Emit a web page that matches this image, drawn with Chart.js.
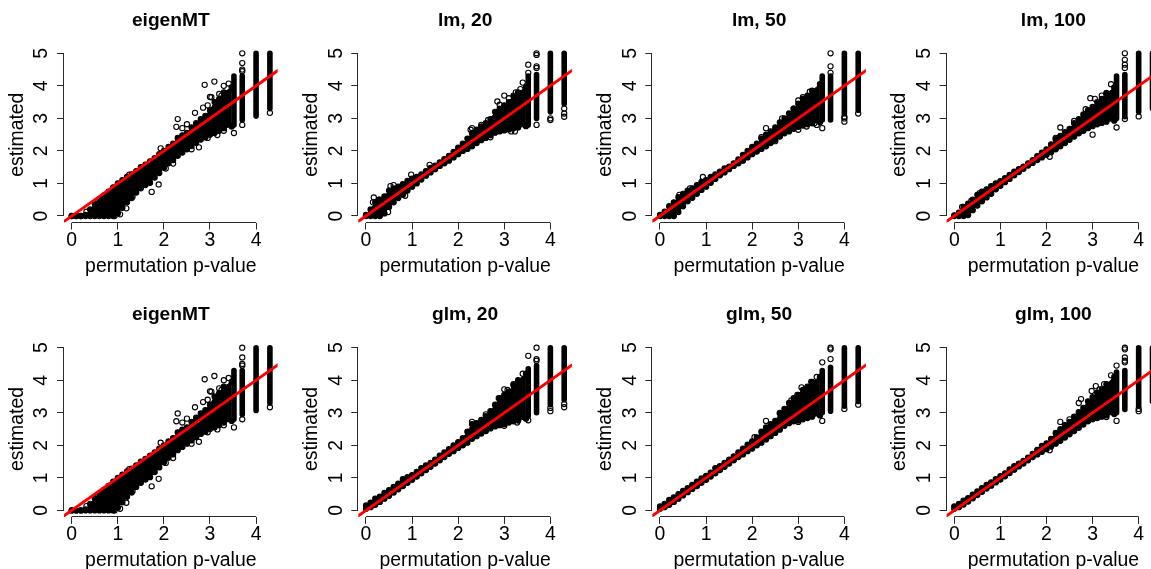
<!DOCTYPE html>
<html><head><meta charset="utf-8">
<style>
html,body{margin:0;padding:0;background:#fff;width:1151px;height:569px;overflow:hidden;position:relative}
canvas{position:absolute;display:block}
</style>
<script src="https://cdn.jsdelivr.net/npm/chart.js@4/dist/chart.umd.js"></script>
</head><body>
<script>
const xTicks = [0,1,2,3,4];
const yTicks = [0,1,2,3,4,5];
const xLabel = "permutation p-value";
const yLabel = "estimated";
const refLine = [-0.3,4.6];
const columnX = [3.52,3.7,4.0,4.3];
const bandX = [0,.1,.2,.3,.4,.5,.6,.7,.8,.9,1,1.1,1.2,1.3,1.4,1.5,1.6,1.7,1.8,1.9,2,2.1,2.2,2.3,2.4,2.5,2.6,2.7,2.8,2.9,3,3.1,3.2,3.3,3.47];

const eigenUpper = [0,0,0,.03,.2,.38,.52,.63,.75,.88,1,1.1,1.2,1.28,1.38,1.5,1.58,1.68,1.78,1.9,2,2.12,2.22,2.4,2.48,2.55,2.72,2.85,2.98,3.08,3.25,3.5,3.6,3.8,3.95];
const eigenLower = [0,0,0,0,0,0,0,0,0,0,.08,.25,.42,.55,.72,.85,.95,1.02,1.18,1.32,1.48,1.62,1.72,1.85,1.95,2.05,2.15,2.25,2.35,2.42,2.5,2.55,2.62,2.7,2.75];
const eigenColLow = [2.8,2.95,3.07,3.3];
const eigenColHigh = [4.3,4.3,5,5];
const eigenOut = [[.32,.13],[.93,0],[1.05,.05],[1.185,.235],[1.32,.59],[1.735,.74],[1.887,.97],[1.93,2.08],[2.04,1.46],[2.2,1.61],[2.27,2.74],[2.3,2.98],[2.4,2.7],[2.675,3.17],[2.76,2.11],[2.85,3.33],[2.885,4.03],[3,3.66],[3.03,3.65],[3.095,4.13],[3.16,2.49],[3.3,4],[3.405,4.07],[3.52,2.55],[3.7,2.8],[3.7,4.45],[3.7,4.5],[3.7,4.7],[3.7,5],[4.3,3.17],[1.25,1.27],[2.5,2.82],[2.95,3.4],[3.2,3.75],[3.25,3.7],[2.6,2.05],[2.95,2.4],[3.3,2.62]];

const lm20Upper = [.03,.2,.42,.5,.6,.78,.85,.9,.98,1.08,1.15,1.2,1.28,1.38,1.48,1.55,1.65,1.75,1.85,1.97,2.1,2.22,2.38,2.55,2.65,2.75,2.85,2.98,3.2,3.3,3.4,3.5,3.7,3.8,3.95];
const lm20Lower = [0,0,0,0,.08,.28,.42,.55,.65,.78,.9,1,1.12,1.24,1.34,1.44,1.54,1.62,1.7,1.8,1.9,2,2.06,2.14,2.24,2.33,2.4,2.48,2.56,2.6,2.63,2.66,2.7,2.72,2.76];
const lm20ColLow = [2.8,3,3.2,3.45];
const lm20ColHigh = [4.3,4.35,5,5];
const lm20Out = [[.15,.42],[.17,.57],[.28,.5],[.48,.12],[.53,.92],[.6,.95],[.85,.62],[.98,1.27],[1.38,1.57],[2.27,2.65],[2.3,2.7],[2.85,3.52],[2.9,3.42],[3,3.7],[3.23,2.6],[3.35,3.9],[3.4,4.1],[3.52,4.4],[3.52,4.65],[3.7,2.8],[3.7,4.55],[3.7,4.6],[3.7,4.95],[3.7,5],[4,2.95],[4,3],[4.3,3.05],[4.3,3.15],[4.3,3.3],[2.5,2.8],[2.65,2.95],[3.1,3.62],[3.25,3.8],[2.7,2.42],[3.15,2.6]];

const lm50Upper = [.03,.13,.3,.42,.58,.68,.78,.85,.95,1.05,1.1,1.2,1.28,1.36,1.46,1.52,1.62,1.74,1.88,2,2.12,2.22,2.38,2.5,2.6,2.72,2.88,3,3.15,3.3,3.45,3.6,3.7,3.85,4.05];
const lm50Lower = [0,0,0,0,.12,.3,.45,.56,.68,.8,.9,1.02,1.14,1.25,1.34,1.44,1.54,1.62,1.7,1.8,1.9,1.98,2.06,2.14,2.24,2.34,2.44,2.54,2.62,2.68,2.74,2.78,2.82,2.85,2.88];
const lm50ColLow = [2.95,2.95,3.15,3.25];
const lm50ColHigh = [4.3,4.3,5,5];
const lm50Out = [[.42,.65],[.65,.85],[.93,1.2],[2.3,2.7],[2.65,3],[2.8,2.6],[2.9,3.3],[3,3.55],[3,2.65],[3.35,2.85],[3.4,2.8],[3.52,2.7],[3.7,4.4],[3.7,4.6],[3.7,5],[4,2.9],[4,3],[4,3.05],[4.3,3.15],[2.2,2.42],[3.1,3.65],[3.25,3.82],[3.18,2.75],[2.5,2.3]];

const lm100Upper = [.02,.1,.28,.38,.5,.65,.75,.82,.92,1,1.07,1.16,1.26,1.36,1.44,1.52,1.62,1.72,1.84,1.95,2.05,2.2,2.36,2.46,2.58,2.68,2.85,2.98,3.12,3.25,3.35,3.5,3.6,3.75,3.95];
const lm100Lower = [0,0,0,.03,.18,.32,.45,.57,.68,.82,.93,1.04,1.14,1.25,1.35,1.45,1.55,1.63,1.72,1.8,1.88,1.96,2.05,2.14,2.24,2.34,2.44,2.54,2.62,2.7,2.76,2.82,2.86,2.9,2.93];
const lm100ColLow = [3,3.05,3.2,3.3];
const lm100ColHigh = [4.3,4.35,5,5];
const lm100Out = [[.17,.28],[.37,.47],[.55,.7],[2.07,1.82],[2.3,2.72],[2.6,2.92],[2.95,3.62],[3,2.5],[3.05,3.6],[3.4,4.05],[3.52,2.72],[3.7,2.98],[3.7,4.55],[3.7,4.65],[3.7,4.8],[3.7,5],[4,3.06],[2.85,3.28],[3.2,3.7],[3.3,3.78],[2.2,2.4]];

const glm20Upper = [.15,.24,.36,.42,.54,.62,.72,.82,.96,1.02,1.08,1.18,1.3,1.38,1.46,1.56,1.68,1.78,1.88,2,2.1,2.22,2.42,2.65,2.68,2.78,2.9,3.05,3.25,3.45,3.55,3.65,3.85,4,4.2];
const glm20Lower = [.05,.1,.17,.26,.36,.45,.55,.65,.75,.85,.94,1.04,1.14,1.24,1.34,1.44,1.54,1.64,1.74,1.82,1.92,2,2.08,2.2,2.28,2.36,2.44,2.52,2.58,2.62,2.65,2.7,2.74,2.76,2.82];
const glm20ColLow = [2.9,3,3.25,3.4];
const glm20ColHigh = [4.35,4.45,5,5];
const glm20Out = [[2.3,2.72],[2.88,3.45],[2.92,3.42],[3,3.72],[3,2.6],[3.07,3.7],[3.28,2.7],[3.4,4.2],[3.52,4.75],[3.52,2.77],[3.7,4.6],[3.7,4.65],[3.7,5],[4,3.05],[4,3.15],[4.3,3.17],[4.3,3.27],[2.6,2.95],[3.2,3.88],[3.3,3.95]];

const glm50Upper = [.12,.2,.32,.4,.5,.6,.68,.78,.88,.98,1.06,1.16,1.3,1.36,1.46,1.56,1.66,1.78,1.9,2.02,2.12,2.24,2.42,2.55,2.65,2.75,2.98,3.12,3.3,3.45,3.55,3.7,3.8,3.95,4.1];
const glm50Lower = [.05,.1,.17,.26,.36,.46,.56,.66,.75,.85,.94,1.04,1.14,1.24,1.34,1.44,1.54,1.64,1.72,1.82,1.9,2,2.08,2.18,2.28,2.38,2.48,2.6,2.68,2.74,2.76,2.8,2.84,2.88,2.92];
const glm50ColLow = [3,3.05,3.2,3.35];
const glm50ColHigh = [4.3,4.4,5,5];
const glm50Out = [[2.05,2.25],[2.3,2.75],[2.6,3],[2.98,3.55],[3.07,3.78],[3.28,3.95],[3.35,3],[3.4,4.1],[3.52,4.55],[3.52,2.75],[3.7,4.65],[3.7,4.95],[3.7,5],[4,3.12],[4.3,3.25],[2.85,3.38],[3.15,3.72],[3,2.72]];

const glm100Upper = [.12,.2,.3,.38,.48,.58,.68,.78,.86,.96,1.05,1.14,1.26,1.36,1.44,1.52,1.62,1.74,1.86,1.98,2.06,2.2,2.38,2.5,2.62,2.72,2.88,3.02,3.15,3.35,3.48,3.62,3.72,3.88,4.1];
const glm100Lower = [.05,.1,.18,.27,.37,.47,.57,.67,.76,.86,.95,1.05,1.15,1.25,1.35,1.44,1.54,1.64,1.72,1.8,1.88,1.96,2.05,2.14,2.24,2.34,2.44,2.54,2.64,2.74,2.8,2.84,2.88,2.92,2.96];
const glm100ColLow = [3,3.1,3.2,3.35];
const glm100ColHigh = [4.25,4.3,5,5];
const glm100Out = [[2.07,1.85],[2.3,2.72],[2.7,3.3],[2.75,3.42],[2.98,3.67],[3.07,3.82],[3.3,2.87],[3.4,4.15],[3.52,4.45],[3.52,2.75],[3.7,4.55],[3.7,4.6],[3.7,4.7],[3.7,4.95],[3.7,5],[4,3.05],[4,3.12],[2.5,2.8],[3.15,3.72],[3.25,3.88]];

const titles = ["eigenMT","lm, 20","lm, 50","lm, 100","eigenMT","glm, 20","glm, 50","glm, 100"];
const uppers = [eigenUpper,lm20Upper,lm50Upper,lm100Upper,eigenUpper,glm20Upper,glm50Upper,glm100Upper];
const lowers = [eigenLower,lm20Lower,lm50Lower,lm100Lower,eigenLower,glm20Lower,glm50Lower,glm100Lower];
const colLows = [eigenColLow,lm20ColLow,lm50ColLow,lm100ColLow,eigenColLow,glm20ColLow,glm50ColLow,glm100ColLow];
const colHighs = [eigenColHigh,lm20ColHigh,lm50ColHigh,lm100ColHigh,eigenColHigh,glm20ColHigh,glm50ColHigh,glm100ColHigh];
const outliers = [eigenOut,lm20Out,lm50Out,lm100Out,eigenOut,glm20Out,glm50Out,glm100Out];

const FONT = "'Liberation Sans', Arial, sans-serif";
const canvasLefts = [0,294,588,882];
const canvasTops = [0,294];
const plotLefts = [64,64.3,64.3,64.6];
const plotTops = [46.8,47.2];
const plotW = 213.6, plotH = 175.7, canvasW = 294, canvasH = 285;
const AXIS = "#2a2a2a";

const partialAxes = {
  id:"partialAxes",
  afterDraw(chart){
    const {ctx,scales:{x,y},chartArea:a}=chart;
    ctx.save();
    ctx.strokeStyle=AXIS; ctx.lineWidth=1;
    ctx.beginPath();
    const by=Math.round(a.bottom)-0.5, lx=Math.round(a.left)-0.5;
    ctx.moveTo(x.getPixelForValue(xTicks[0]),by);
    ctx.lineTo(x.getPixelForValue(xTicks[xTicks.length-1]),by);
    ctx.moveTo(lx,y.getPixelForValue(yTicks[0]));
    ctx.lineTo(lx,y.getPixelForValue(yTicks[yTicks.length-1]));
    ctx.stroke();
    ctx.restore();
  }
};
const pts = (xs,ys)=>xs.map((v,i)=>({x:v,y:ys[i]}));

titles.forEach((t,i)=>{
  const col=i%4,row=i<4?0:1;
  const c=document.createElement("canvas");
  c.width=canvasW;c.height=canvasH;
  c.style.left=canvasLefts[col]+"px";c.style.top=canvasTops[row]+"px";
  document.body.appendChild(c);
  const circle={pointStyle:"circle",pointRadius:2.6,pointBorderWidth:1.1,pointBorderColor:"#000",pointBackgroundColor:"rgba(0,0,0,0)"};
  const solid={...circle,pointBackgroundColor:"#000"};
  const datasets=[
    {data:refLine.map(v=>({x:v,y:v})),borderColor:"#ff0000",borderWidth:2.9,pointRadius:0,fill:false,clip:0,tension:0},
    {data:pts(bandX,uppers[i]),borderColor:"#000",borderWidth:1,backgroundColor:"#000",fill:"+1",clip:false,...solid},
    {data:pts(bandX,lowers[i]),borderColor:"#000",borderWidth:1,fill:false,clip:false,...solid},
    {data:outliers[i].map(p=>({x:p[0],y:p[1]})),showLine:false,clip:false,...circle}
  ];
  columnX.forEach((cx,k)=>datasets.push({
    data:[{x:cx,y:colLows[i][k]},{x:cx,y:colHighs[i][k]}],
    borderColor:"#000",borderWidth:5.6,borderCapStyle:"round",pointRadius:0,fill:false,clip:false
  }));
  new Chart(c,{
    type:"line",
    data:{datasets},
    plugins:[partialAxes],
    options:{
      responsive:false,animation:false,devicePixelRatio:1,
      events:[],
      layout:{padding:{left:0,top:0,bottom:0,right:canvasW-plotLefts[col]-plotW}},
      plugins:{
        legend:{display:false},tooltip:{enabled:false},
        title:{display:true,text:t,color:"#000",fullSize:false,
          font:{family:FONT,size:19.2,weight:"bold",lineHeight:1},
          padding:{top:11.5,bottom:plotTops[row]-11.5-19.2}}
      },
      scales:{
        x:{type:"linear",min:-0.167,max:4.467,
          afterBuildTicks:s=>{s.ticks=xTicks.map(v=>({value:v}));},
          afterFit:s=>{s.height=canvasH-plotTops[row]-plotH;},
          border:{display:false},
          grid:{drawOnChartArea:false,drawTicks:true,tickLength:7,color:AXIS,lineWidth:1},
          ticks:{color:"#000",padding:1,autoSkip:false,maxRotation:0,minRotation:0,
            font:{family:FONT,size:19.4,lineHeight:1},callback:v=>String(v)},
          title:{display:true,text:xLabel,color:"#000",
            font:{family:FONT,size:19.4,lineHeight:1},padding:{top:0,bottom:9}}
        },
        y:{type:"linear",min:-0.2,max:5.2,
          afterBuildTicks:s=>{s.ticks=yTicks.map(v=>({value:v}));},
          afterFit:s=>{s.width=plotLefts[col];},
          border:{display:false},
          grid:{drawOnChartArea:false,drawTicks:true,tickLength:7,color:AXIS,lineWidth:1},
          ticks:{color:"#000",padding:9.7,autoSkip:false,minRotation:90,maxRotation:90,crossAlign:"center",
            font:{family:FONT,size:19.4,lineHeight:1},callback:v=>String(v)},
          title:{display:true,text:yLabel,color:"#000",
            font:{family:FONT,size:19.4,lineHeight:1},padding:{top:7.5,bottom:0}}
        }
      }
    }
  });
});
</script>
</body></html>
